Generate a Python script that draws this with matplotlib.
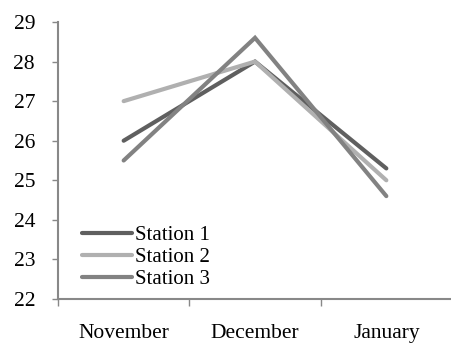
import matplotlib
matplotlib.use("Agg")
import matplotlib.pyplot as plt
import numpy as np

categories = ["November", "December", "January"]
station1 = [26.0, 28.0, 25.3]
station2 = [27.0, 28.0, 25.0]
station3 = [25.5, 28.6, 24.6]
series_names = ["Station 1", "Station 2", "Station 3"]
colors = ["#5f5f5f", "#b0b0b0", "#828282"]

plt.rcParams['font.family'] = ['Liberation Serif', 'DejaVu Serif']

fig = plt.figure(figsize=(4.52, 3.44), dpi=100)
ax = fig.add_axes([58/452, 1-299/344, 1-58/452, (299-22)/344])

x = np.arange(len(categories))
for vals, name, c in zip([station1, station2, station3], series_names, colors):
    ax.plot(x, vals, color=c, lw=3.0, label=name, solid_capstyle='round', solid_joinstyle='miter')

ax.set_xlim(-0.5, len(categories) - 0.5)
ax.set_ylim(22, 29)
ax.set_yticks(range(22, 30))
ax.tick_params(axis='y', labelsize=15.5, length=4.5, width=1, color='#888888', pad=12)
ax.set_xticks(np.arange(-0.5, len(categories), 1.0))
ax.set_xticklabels([])
ax.tick_params(axis='x', which='major', length=5, width=1, color='#888888')
ax.set_xticks(x, minor=True)
ax.set_xticklabels(categories, minor=True)
ax.tick_params(axis='x', which='minor', length=0, labelsize=15.5, pad=18)

for s in ['top', 'right']:
    ax.spines[s].set_visible(False)
for s in ['left', 'bottom']:
    ax.spines[s].set_color('#888888')
    ax.spines[s].set_linewidth(1.5)

leg = ax.legend(loc='lower left', bbox_to_anchor=(0.04, 0.005), frameon=False,
                fontsize=15, handlelength=2.4, handletextpad=0.15, labelspacing=0.12,
                borderaxespad=0)
fig.savefig("out.png", dpi=100)
